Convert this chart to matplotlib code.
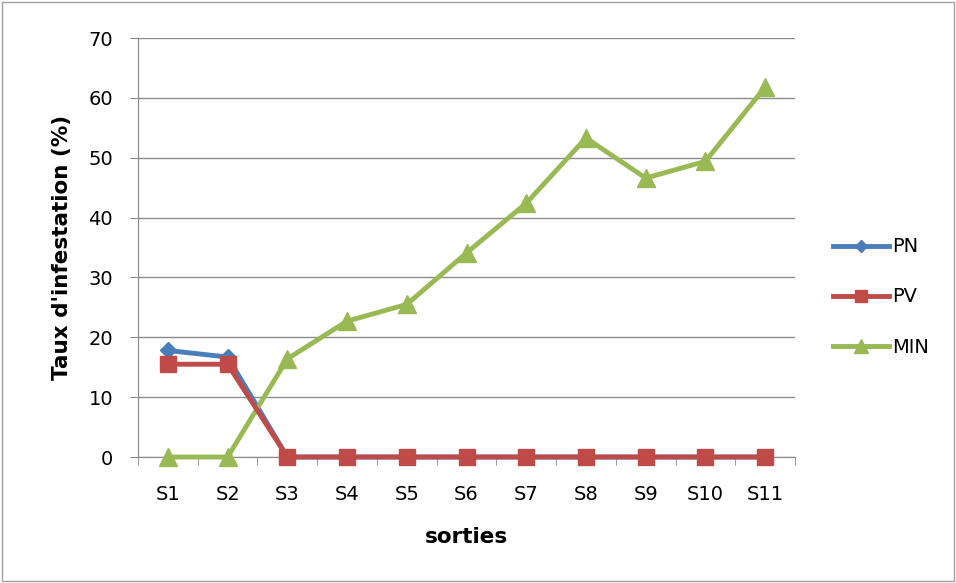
import matplotlib
matplotlib.use("Agg")
import matplotlib.pyplot as plt
from matplotlib.patches import Rectangle

plt.rcParams["font.family"] = ["DejaVu Sans"]

# ── Data ─────────────────────────────────────────────────────────────────────
sorties = ["S1", "S2", "S3", "S4", "S5", "S6", "S7", "S8", "S9", "S10", "S11"]
pn = [17.8, 16.7, 0, 0, 0, 0, 0, 0, 0, 0, 0]
pv = [15.5, 15.5, 0, 0, 0, 0, 0, 0, 0, 0, 0]
mn = [0, 0, 16.4, 22.7, 25.5, 34.1, 42.4, 53.3, 46.6, 49.4, 61.8]

# ── Figure ───────────────────────────────────────────────────────────────────
fig = plt.figure(figsize=(9.56, 5.83), dpi=100)
fig.patches.append(Rectangle((0.002, 0.003), 0.996, 0.994, transform=fig.transFigure,
                             fill=False, edgecolor="#a0a0a0", linewidth=1))
ax = fig.add_axes([0.1444, 0.2161, 0.6872, 0.7187])

x = list(range(len(sorties)))
ax.plot(x, pn, color="#4a7ebb", lw=3.5, marker="D", ms=8, label="PN", clip_on=False, zorder=3)
ax.plot(x, pv, color="#be4b48", lw=3.5, marker="s", ms=11, label="PV", clip_on=False, zorder=4)
ax.plot(x, mn, color="#98b954", lw=3.5, marker="^", ms=13, label="MIN", clip_on=False, zorder=3)

ax.set_xlim(-0.5, len(sorties) - 0.5)
ax.set_ylim(0, 70)
ax.set_yticks(range(0, 71, 10))
ax.set_xticks(x)
ax.set_xticklabels(sorties)
ax.set_xticks([i - 0.5 for i in range(len(sorties) + 1)], minor=True)
ax.tick_params(axis="x", which="major", length=0, pad=20, labelsize=14)
ax.tick_params(axis="x", which="minor", length=6, color="#888888", direction="out")
ax.tick_params(axis="y", length=6, color="#888888", labelsize=14, pad=12)

ax.grid(axis="y", color="#8c8c8c", lw=1)
ax.set_axisbelow(True)
for s in ["top", "right"]:
    ax.spines[s].set_visible(False)
ax.spines["left"].set_color("#888888")
ax.spines["bottom"].set_color("#888888")

ax.set_xlabel("sorties", fontsize=15.5, fontweight="bold", labelpad=17)
ax.set_ylabel("Taux d'infestation (%)", fontsize=15.5, fontweight="bold", labelpad=12)

ax.legend(loc="center left", bbox_to_anchor=(833 / 956, 1 - 297 / 583),
          bbox_transform=fig.transFigure, frameon=False, borderpad=0, borderaxespad=0,
          fontsize=14, handlelength=2.9, handletextpad=0.15, labelspacing=1.6,
          markerscale=0.8)

fig.savefig("out.png", dpi=100)
